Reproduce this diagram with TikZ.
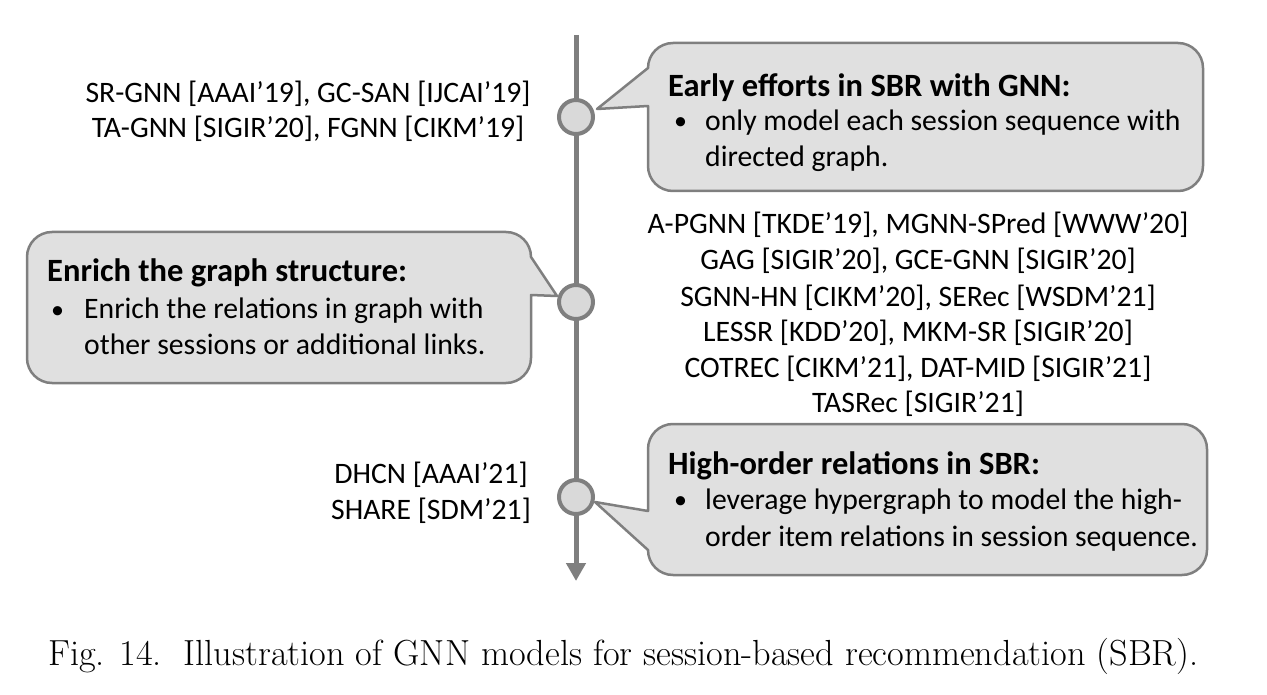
\documentclass[tikz,border=0pt]{standalone}
\usepackage{fontspec}
\setmainfont{Carlito}
\newfontfamily\capfont{Latin Modern Roman}
\usetikzlibrary{arrows.meta}
\definecolor{linegray}{HTML}{7F7F7F}
\definecolor{dotfill}{HTML}{D9D9D9}
\definecolor{boxfill}{HTML}{E0E0E0}
\tikzset{
  txt/.style={inner sep=0pt, font=\fontsize{29.7}{35}\selectfont},
  lst/.style={txt, anchor=base},
  ttl/.style={txt, anchor=base west, font=\fontsize{32.5}{38}\selectfont\bfseries},
  bul/.style={txt, anchor=base west},
  bulmark/.style={txt, anchor=base west, font=\fontsize{26}{30}\selectfont},
  callout/.style={draw=linegray, line width=2.5pt, fill=boxfill, line join=round},
  dot/.style={circle, draw=linegray, line width=4pt, fill=dotfill, minimum size=34pt, inner sep=0pt},
}
\begin{document}
\begin{tikzpicture}[x=1pt,y=-1pt]
\useasboundingbox (0,0) rectangle (1267,695);
% timeline
\coordinate (top) at (576,35);
\coordinate (bot) at (576,581);
\draw[linegray, line width=5pt, -{Triangle[length=18pt,width=19pt]}] (top) -- (bot);
% callout 1
\draw[callout] (648,106) -- (648,166) arc[start angle=180,end angle=90,radius=25]
  -- (1178,191) arc[start angle=90,end angle=0,radius=25]
  -- (1203,68) arc[start angle=0,end angle=-90,radius=25]
  -- (673,43) arc[start angle=-90,end angle=-180,radius=25]
  -- (597,109) -- cycle;
% callout 2
\draw[callout] (531,295) -- (531,358) arc[start angle=0,end angle=90,radius=25]
  -- (52,383) arc[start angle=90,end angle=180,radius=25]
  -- (27,257) arc[start angle=180,end angle=270,radius=25]
  -- (506,232) arc[start angle=270,end angle=360,radius=25]
  -- (557,296) -- cycle;
% callout 3
\draw[callout] (648,511) -- (648,449) arc[start angle=180,end angle=270,radius=25]
  -- (1182,424) arc[start angle=270,end angle=360,radius=25]
  -- (1207,550) arc[start angle=0,end angle=90,radius=25]
  -- (673,575) arc[start angle=90,end angle=180,radius=25]
  -- (595,502) -- cycle;
% dots
\node[dot] (d1) at (576,117) {};
\node[dot] (d2) at (576,302) {};
\node[dot] (d3) at (576,497) {};
% left lists
\node[lst] (l1a) at (308,103) {SR-GNN [AAAI’19], GC-SAN [IJCAI’19]};
\node[lst] (l1b) at (308,138) {TA-GNN [SIGIR’20], FGNN [CIKM’19]};
\node[lst] (l3a) at (431,483) {DHCN [AAAI’21]};
\node[lst] (l3b) at (431,519) {SHARE [SDM’21]};
% middle list
\node[lst] (m1) at (918,234) {A-PGNN [TKDE’19], MGNN-SPred [WWW’20]};
\node[lst] (m2) at (918,270) {GAG [SIGIR’20], GCE-GNN [SIGIR’20]};
\node[lst] (m3) at (918,306) {SGNN-HN [CIKM’20], SERec [WSDM’21]};
\node[lst] (m4) at (918,341) {LESSR [KDD’20], MKM-SR [SIGIR’20]};
\node[lst] (m5) at (918,377) {COTREC [CIKM’21], DAT-MID [SIGIR’21]};
\node[lst] (m6) at (918,412) {TASRec [SIGIR’21]};
% box 1 text
\node[ttl] (t1) at (668,97) {Early efforts in SBR with GNN:};
\node[bulmark] (b1) at (674,130) {•};
\node[bul] (b1a) at (705,131) {only model each session sequence with};
\node[bul] (b1b) at (705,167) {directed graph.};
% box 2 text
\node[ttl] (t2) at (47,281) {Enrich the graph structure:};
\node[bulmark] (b2) at (51,318) {•};
\node[bul] (b2a) at (84,319) {Enrich the relations in graph with};
\node[bul] (b2b) at (84,354) {other sessions or additional links.};
% box 3 text
\node[ttl] (t3) at (668,474) {High-order relations in SBR:};
\node[bulmark] (b3) at (674,508) {•};
\node[bul] (b3a) at (705,509) {leverage hypergraph to model the high-};
\node[bul] (b3b) at (705,546) {order item relations in session sequence.};
% caption
\node[inner sep=0pt, anchor=base west, font=\capfont\fontsize{36.3}{42}\selectfont] (cap) at (48,665)
  {Fig. 14.\ \ Illustration of GNN models for session-based recommendation (SBR).};
\end{tikzpicture}
\end{document}
